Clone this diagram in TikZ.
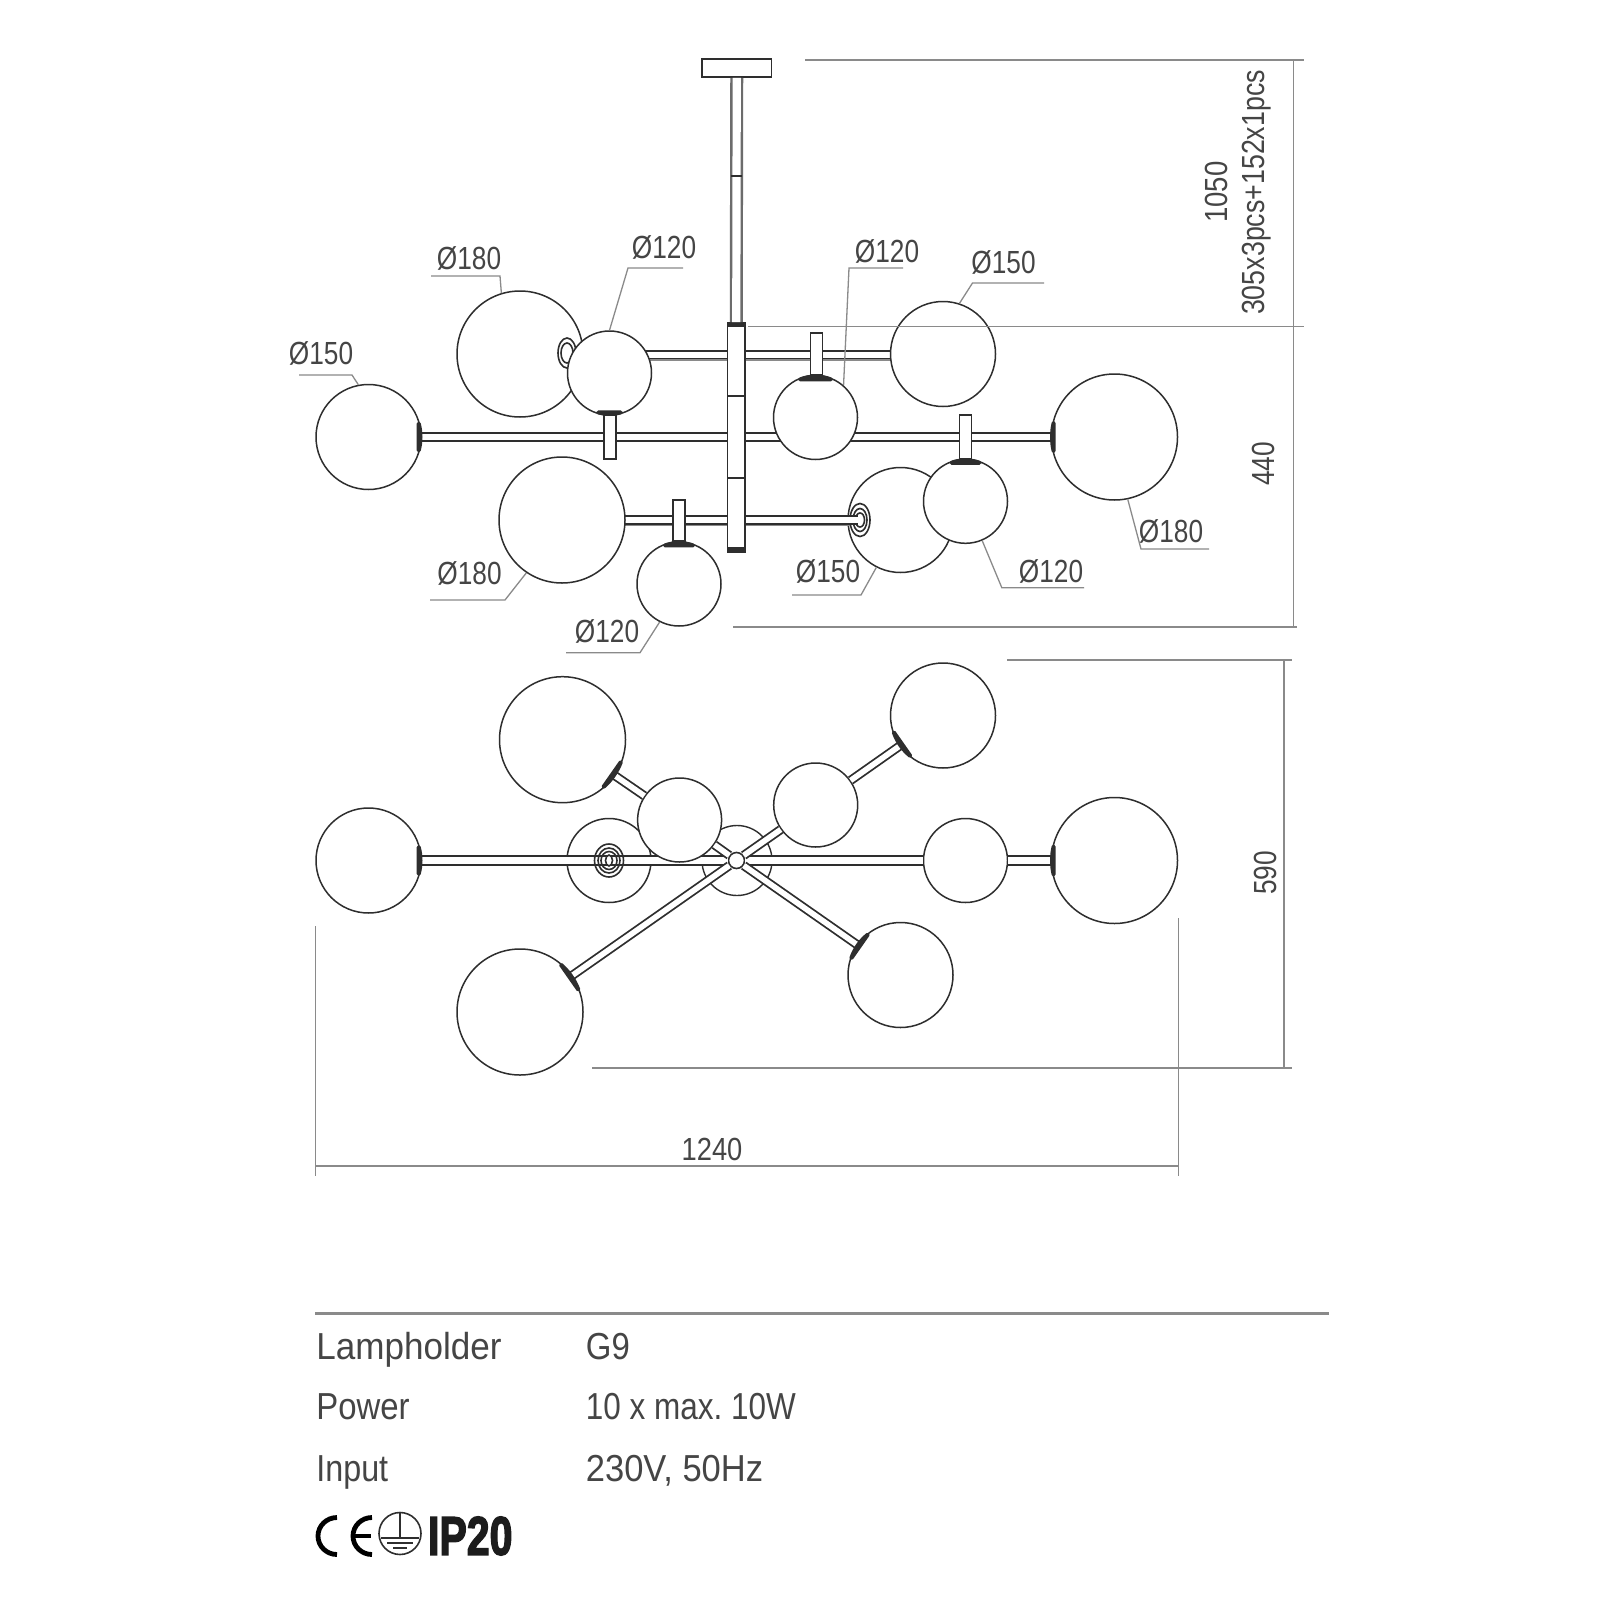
\documentclass[tikz,border=0pt]{standalone}
\usepackage{fontspec}
\usepackage{graphicx}
\setmainfont{Liberation Sans}
\newfontfamily\dimfont[FakeStretch=0.82]{Liberation Sans}
\newfontfamily\infofont[FakeStretch=0.85]{Liberation Sans}
\newfontfamily\ipfont[FakeBold=3]{Liberation Sans Bold}
\definecolor{ink}{HTML}{2E2E2E}
\definecolor{dimc}{HTML}{8A8A8A}
\definecolor{txt}{HTML}{454545}
\tikzset{
  ball/.style={circle,draw=ink,fill=white,line width=0.75pt,inner sep=0pt},
  ballA/.style={ball,minimum size=63pt},
  ballB/.style={ball,minimum size=52.5pt},
  ballC/.style={ball,minimum size=42pt},
  hubdot/.style={circle,draw=ink,fill=white,line width=0.8pt,inner sep=0pt,minimum size=8pt},
  rod/.style={draw=ink,line width=0.9pt,double=white,double distance=2.8pt},
  planrod/.style={draw=ink,line width=0.9pt,double=white,double distance=3.4pt},
  undershade/.style={draw=dimc,line width=0.8pt},
  stemrod/.style={draw=gray!85!black,line width=1.2pt,double=white,double distance=4.1pt},
  bracket/.style={rectangle,draw=ink,fill=white,line width=0.7pt,inner sep=0pt,minimum width=6pt},
  boxed/.style={rectangle,draw=ink,fill=white,line width=0.8pt,inner sep=0pt},
  capline/.style={draw=ink,fill=ink,line width=2pt,line join=round},
  dimline/.style={draw=dimc,line width=0.75pt},
  lead/.style={draw=dimc,line width=0.65pt},
  dimtext/.style={inner sep=0pt,text=txt,font=\dimfont\fontsize{16}{16}\selectfont},
  infotext/.style={inner sep=0pt,anchor=base west,text=txt,font=\infofont\fontsize{18.8}{19}\selectfont\frenchspacing},
  ticker/.style={draw=ink,line width=1pt},
  ring/.style={draw=ink,line width=0.8pt},
  cemark/.style={draw=black,line width=2.4pt},
  earth/.style={draw=ink,line width=0.8pt}
}
\newcommand{\ballcap}[4]{\draw[capline] (#1.center) ++({#2-#4}:#3) arc[start angle={#2-#4},end angle={#2+#4},radius=#3] -- cycle;}
\begin{document}
\begin{tikzpicture}[x=0.5pt,y=-0.5pt]
\useasboundingbox (0,0) rectangle (1600,1600);
\fill[white] (0,0) rectangle (1600,1600);

%% ---------- side view ----------
\node[ballA] (sTL) at (520,354) {};
\node[ballB] (sBR) at (900.5,520) {};
% flanges
\coordinate (flA) at (567,353);
\draw[ring,fill=white] (flA) ellipse [x radius=9,y radius=15];
\draw[ring] (flA) ellipse [x radius=6,y radius=10];
\coordinate (flB) at (860,520);
\draw[ring,fill=white] (flB) ellipse [x radius=10,y radius=16.5];
\draw[ring] (flB) ellipse [x radius=7,y radius=11.5];
\draw[ring] (flB) ellipse [x radius=4.5,y radius=7];
% rods
\coordinate (u1) at (610,355); \coordinate (u2) at (943,355);
\coordinate (m1) at (368,437); \coordinate (m2) at (1114,437);
\coordinate (b1) at (562,520); \coordinate (b2) at (858,520);
\draw[rod] (u1) -- (u2);
\draw[rod] (m1) -- (m2);
\draw[rod] (b1) -- (b2);
\coordinate (u1s) at (610,360); \coordinate (u2s) at (943,360);
\coordinate (b1s) at (562,525.5); \coordinate (b2s) at (850,525.5);
\draw[undershade] (u1s) -- (u2s);
\draw[undershade] (b1s) -- (b2s);
% canopy, stem, column
\node[boxed,minimum width=34.75pt,minimum height=9pt] (canopy) at (736.75,68) {};
\node[boxed,minimum width=8.75pt,minimum height=114.5pt] (col) at (736.25,437.5) {};
\draw[stemrod] (canopy.south) -- (col.north);
\coordinate (tkA) at (730.5,175.7); \coordinate (tkB) at (742,175.7);
\draw[ticker] (tkA) -- (tkB);
\coordinate (c1) at (727.5,395.7); \coordinate (c2) at (745,395.7);
\coordinate (c3) at (727.5,478); \coordinate (c4) at (745,478);
\draw[ticker] (c1) -- (c2);
\draw[ticker] (c3) -- (c4);
\fill[ink] (727.5,323) rectangle (745,327);
\fill[ink] (727.5,547) rectangle (745,552);
% T brackets
\node[bracket,minimum height=22pt] (t1) at (610,437) {};
\node[bracket,minimum height=21pt] (t2) at (816.5,354) {};
\node[bracket,minimum height=22pt] (t3) at (965.5,437) {};
\node[bracket,minimum height=20.5pt] (t4) at (679,520.5) {};
% balls
\node[ballC] (sA) at (609.5,373) {};
\node[ballB] (sL) at (368.5,437) {};
\node[ballB] (sTR) at (943,354) {};
\node[ballA] (sR) at (1114.5,437) {};
\node[ballC] (sM) at (815.5,417.5) {};
\node[ballA] (sBL) at (562,520) {};
\node[ballC] (sD) at (679,584) {};
\node[ballC] (sE) at (965.5,501.3) {};
\ballcap{sL}{0}{52}{15}
\ballcap{sR}{180}{62.5}{13}
\ballcap{sA}{90}{41}{16}
\ballcap{sM}{-90}{41}{22}
\ballcap{sD}{-90}{41}{20}
\ballcap{sE}{-90}{41}{20}

%% ---------- plan view ----------
\node[circle,draw=ink,fill=white,line width=0.7pt,inner sep=0pt,minimum size=35pt] (pCan) at (737,860.5) {};
\node[hubdot] (hub) at (736.5,860.5) {};
\node[ballB] (pL) at (368.5,860.5) {};
\node[ballA] (pTL) at (562.5,739.7) {};
\node[ballA] (pLL) at (520,1012) {};
\node[ballB] (pUR) at (943,715.5) {};
\node[ballB] (pLR) at (900.5,975) {};
\node[ballA] (pR) at (1114.5,860.5) {};
\node[ballC] (pBack) at (609,860.5) {};
\node[ballC] (pN) at (965.5,860.5) {};
\draw[planrod] (pL) -- (hub);
\draw[planrod] (hub) -- (pN);
\draw[planrod] (pN) -- (pR);
\coordinate (fp) at (609,860.5);
\draw[ring] (fp) ellipse [x radius=14.5,y radius=16.5];
\draw[ring] (fp) ellipse [x radius=11,y radius=12.5];
\draw[ring] (fp) ellipse [x radius=8,y radius=9];
\draw[ring,fill=white] (fp) ellipse [x radius=3.5,y radius=5.5];
\node[ballC] (pQ) at (679.6,820) {};
\node[ballC] (pS) at (815.7,805) {};
\draw[rod] (pTL) -- (pQ);
\draw[rod] (pQ) -- (hub);
\draw[rod] (pUR) -- (pS);
\draw[rod] (pS) -- (hub);
\draw[rod] (pLL) -- (hub);
\draw[rod] (pLR) -- (hub);
\ballcap{pL}{0}{52}{15}
\ballcap{pR}{180}{62.5}{13}
\ballcap{pTL}{35}{62.5}{14}
\ballcap{pUR}{145}{52}{16}
\ballcap{pLL}{-35}{62.5}{14}
\ballcap{pLR}{215}{52}{16}

%% ---------- dimension lines ----------
\coordinate (d1) at (805,60); \coordinate (d2) at (1304,60);
\coordinate (d3) at (748,326.7); \coordinate (d4) at (1304,326.7);
\coordinate (d5) at (733,627); \coordinate (d6) at (1297,627);
\coordinate (d7) at (1293.5,60); \coordinate (d8) at (1293.5,627);
\draw[dimline] (d1) -- (d2);
\draw[dimline] (d3) -- (d4);
\draw[dimline] (d5) -- (d6);
\draw[dimline] (d7) -- (d8);
\coordinate (e1) at (1007,660); \coordinate (e2) at (1292,660);
\coordinate (e3) at (592,1068); \coordinate (e4) at (1292,1068);
\coordinate (e5) at (1284,660); \coordinate (e6) at (1284,1068);
\draw[dimline] (e1) -- (e2);
\draw[dimline] (e3) -- (e4);
\draw[dimline] (e5) -- (e6);
\coordinate (f1) at (315.5,1166); \coordinate (f2) at (1178.5,1166);
\coordinate (f3) at (315.5,926); \coordinate (f4) at (315.5,1176);
\coordinate (f5) at (1178.5,918); \coordinate (f6) at (1178.5,1176);
\draw[dimline] (f1) -- (f2);
\draw[dimline] (f3) -- (f4);
\draw[dimline] (f5) -- (f6);

\node[dimtext,rotate=90] (t1050) at (1216,192) {\scalebox{1.05}[1]{1050}};
\node[dimtext,rotate=90] (tpcs) at (1257,192.5) {\scalebox{1.02}[1]{305x3pcs+152x1pcs}};
\node[dimtext,rotate=90] (t440) at (1263,464) {440};
\node[dimtext,rotate=90] (t590) at (1265,873) {590};
\node[dimtext] (t1240) at (712,1149) {\scalebox{1.04}[1]{1240}};

%% ---------- leaders ----------
\node[dimtext] (lA) at (469,258) {Ø180};
\node[dimtext] (lB) at (664,247.5) {Ø120};
\node[dimtext] (lC) at (321,353.5) {Ø150};
\node[dimtext] (lD) at (887,251.5) {Ø120};
\node[dimtext] (lE) at (1003.5,262.5) {Ø150};
\node[dimtext] (lF) at (1171,531) {Ø180};
\node[dimtext] (lG) at (1051,571.5) {Ø120};
\node[dimtext] (lH) at (828,571.5) {Ø150};
\node[dimtext] (lI) at (469.5,573.5) {Ø180};
\node[dimtext] (lJ) at (607,631.5) {Ø120};
\coordinate (a1) at (431,276); \coordinate (a2) at (500,276);
\draw[lead] (a1) -- (a2) -- (sTL.107.6);
\coordinate (b1x) at (683,268); \coordinate (b2x) at (628,268);
\draw[lead] (b1x) -- (b2x) -- (sA.90);
\coordinate (c1x) at (299,375); \coordinate (c2x) at (352,375);
\draw[lead] (c1x) -- (c2x) -- (sL.101);
\coordinate (d1x) at (903,268); \coordinate (d2x) at (849,268);
\draw[lead] (d1x) -- (d2x) -- (sM.49);
\coordinate (e1x) at (1044,283); \coordinate (e2x) at (972.5,283);
\draw[lead] (e1x) -- (e2x) -- (sTR.72);
\coordinate (f1x) at (1209,549); \coordinate (f2x) at (1141,549);
\draw[lead] (f1x) -- (f2x) -- (sR.-78);
\coordinate (g1x) at (1084,587.7); \coordinate (g2x) at (1001.8,587.7);
\draw[lead] (g1x) -- (g2x) -- (sE.-67);
\coordinate (h1x) at (792,595); \coordinate (h2x) at (861,595);
\draw[lead] (h1x) -- (h2x) -- (sBR.-117.5);
\coordinate (i1x) at (430,600); \coordinate (i2x) at (505,600);
\draw[lead] (i1x) -- (i2x) -- (sBL.-124.6);
\coordinate (j1x) at (566,652.7); \coordinate (j2x) at (640,652.7);
\draw[lead] (j1x) -- (j2x) -- (sD.-117);

%% ---------- info block ----------
\coordinate (r1) at (315,1313); \coordinate (r2) at (1328.5,1313);
\draw[draw=dimc,line width=1.5pt] (r1) -- (r2);
\node[infotext] (k1) at (316,1359) {\scalebox{1.097}[1]{Lampholder}};
\node[infotext] (v1) at (585.5,1359) {\scalebox{1.03}[1]{G9}};
\node[infotext] (k2) at (316,1419) {\scalebox{1.03}[1]{Power}};
\node[infotext] (v2) at (585.5,1419) {\scalebox{0.985}[1]{10 x max. 10W}};
\node[infotext] (k3) at (316,1481.5) {\scalebox{1.01}[1]{Input}};
\node[infotext] (v3) at (585.5,1481.5) {\scalebox{1.08}[1]{230V, 50Hz}};

% CE mark
\draw[cemark] (337,1517.5) arc[start angle=-90,end angle=-270,x radius=19,y radius=18.5];
\draw[cemark] (372,1517.5) arc[start angle=-90,end angle=-270,x radius=19,y radius=18.5];
\coordinate (ce1) at (353,1536); \coordinate (ce2) at (371,1536);
\draw[cemark,line width=1.6pt] (ce1) -- (ce2);
% earth
\node[circle,draw=ink,line width=0.8pt,inner sep=0pt,minimum size=21pt] (earthc) at (400,1533.5) {};
\coordinate (g1) at (400,1513); \coordinate (g2) at (400,1538);
\coordinate (g3) at (381,1538); \coordinate (g4) at (419,1538);
\coordinate (g5) at (387,1543); \coordinate (g6) at (413,1543);
\coordinate (g7) at (393,1548); \coordinate (g8) at (407,1548);
\draw[earth] (g1) -- (g2);
\draw[earth] (g3) -- (g4);
\draw[earth] (g5) -- (g6);
\draw[earth] (g7) -- (g8);
\node[inner sep=0pt,text=ink!60!black] (ip) at (470.25,1536) {\resizebox{42.25pt}{19pt}{\ipfont IP20}};
\end{tikzpicture}
\end{document}
